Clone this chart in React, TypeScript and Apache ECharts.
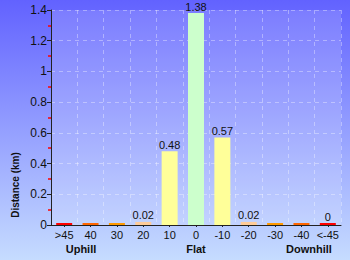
import React, { useEffect, useRef } from "react";
import * as echarts from "echarts";

const categories = [">45", "40", "30", "20", "10", "0", "-10", "-20", "-30", "-40", "<-45"];
const distances = [0.01, 0.01, 0.01, 0.02, 0.48, 1.38, 0.57, 0.02, 0.01, 0.01, 0.01];
const valueLabels = ["", "", "", "0.02", "0.48", "1.38", "0.57", "0.02", "", "", "0"];
const barColors = ["#ff0000", "#ff6600", "#ff9900", "#ffcc99", "#ffff99", "#ccffcc", "#ffff99", "#ffcc99", "#ff9900", "#ff6600", "#ff0000"];
const groupLabels = [
  { text: "Uphill", x: 81 },
  { text: "Flat", x: 196 },
  { text: "Downhill", x: 309 },
];

const FONT = "Liberation Sans, Arial, sans-serif";

export default function App() {
  const ref = useRef<HTMLDivElement>(null);
  useEffect(() => {
    if (!ref.current) return;
    const chart = echarts.init(ref.current, undefined, { renderer: "svg" });
    chart.setOption({
      animation: false,
      backgroundColor: new echarts.graphic.LinearGradient(0, 0, 0, 1, [
        { offset: 0, color: "#6262ff" },
        { offset: 1, color: "#c6dcff" },
      ]),
      grid: {
        left: 51,
        right: 9,
        top: 10,
        bottom: 35,
        show: true,
        borderWidth: 0,
        backgroundColor: "rgba(255,255,255,0.15)",
      },
      xAxis: {
        type: "category",
        data: categories,
        axisLine: { lineStyle: { color: "#222", width: 1 } },
        axisTick: { show: true, alignWithLabel: true, length: 2, lineStyle: { color: "#222" } },
        axisLabel: { color: "#111", fontSize: 11, fontFamily: FONT, margin: 4, interval: 0 },
        splitLine: { show: true, lineStyle: { color: "rgba(255,255,255,0.35)", type: [4, 4] } },
      },
      yAxis: [
        {
          type: "value",
          min: 0,
          max: 1.4,
          interval: 0.2,
          position: "left",
          axisLine: { show: false },
          axisTick: { show: false },
          minorTick: { show: true, splitNumber: 2, length: 3, lineStyle: { color: "#ff0000", width: 1.5 } },
          axisLabel: { show: false },
          splitLine: { show: false },
        },
        {
          type: "value",
          min: 0,
          max: 1.4,
          interval: 0.2,
          position: "left",
          axisLine: { show: true, lineStyle: { color: "#222", width: 1 } },
          axisTick: { show: true, length: 4, lineStyle: { color: "#222" } },
          axisLabel: {
            color: "#111",
            fontSize: 12,
            fontFamily: FONT,
            margin: 4,
            formatter: (v: number) => String(Math.round(v * 10) / 10),
          },
          splitLine: { show: true, lineStyle: { color: "rgba(255,255,255,0.35)", type: [4, 4] } },
        },
      ],
      series: [
        {
          type: "bar",
          yAxisIndex: 1,
          barWidth: 16,
          barMinHeight: 2,
          data: distances.map((v, i) => ({
            value: v,
            itemStyle: { color: barColors[i] },
          })),
          label: {
            show: true,
            position: "top",
            distance: 1,
            color: "#111",
            fontSize: 11,
            fontFamily: FONT,
            formatter: (p: any) => valueLabels[p.dataIndex],
          },
        },
      ],
      graphic: [
        {
          type: "text",
          x: 15,
          y: 185,
          rotation: Math.PI / 2,
          style: {
            text: "Distance (km)",
            font: `bold 10px ${FONT}`,
            fill: "#111",
            align: "center",
            verticalAlign: "middle",
          },
        },
        ...groupLabels.map((g) => ({
          type: "text",
          x: g.x,
          y: 249,
          style: {
            text: g.text,
            font: `bold 11px ${FONT}`,
            fill: "#111",
            align: "center",
            verticalAlign: "middle",
          },
        })),
      ],
    });
    return () => chart.dispose();
  }, []);
  return <div ref={ref} style={{ width: 350, height: 260, position: "absolute", left: 0, top: 0 }} />;
}
